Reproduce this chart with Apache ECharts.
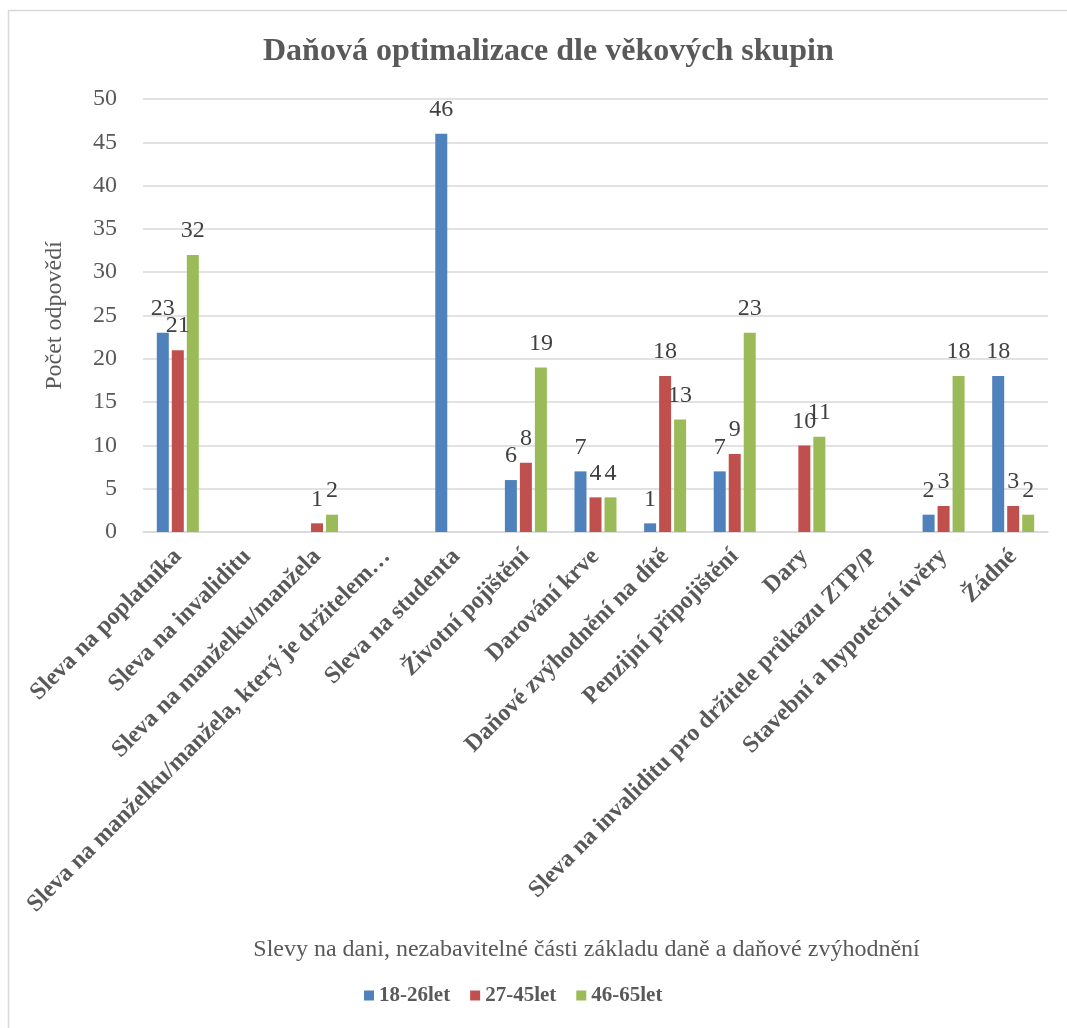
<!DOCTYPE html>
<html>
<head>
<meta charset="utf-8">
<script src="https://cdn.jsdelivr.net/npm/echarts@6/dist/echarts.min.js"></script>
<style>
  html, body { margin: 0; padding: 0; background: #fff; }
  #chart { width: 1067px; height: 1028px; }
</style>
</head>
<body>
<div id="chart"></div>
<script>
// Categories of tax relief and the answer counts per age group
const categories = [
  'Sleva na poplatníka',
  'Sleva na invaliditu',
  'Sleva na manželku/manžela',
  'Sleva na manželku/manžela, který je držitelem…',
  'Sleva na studenta',
  'Životní pojištění',
  'Darování krve',
  'Daňové zvýhodnění na dítě',
  'Penzijní připojištění',
  'Dary',
  'Sleva na invaliditu pro držitele průkazu ZTP/P',
  'Stavební a hypoteční úvěry',
  'Žádné'
];
const seriesNames = ['18-26let', '27-45let', '46-65let'];
const age18to26 = [23, null, null, null, 46, 6, 7, 1, 7, null, null, 2, 18];
const age27to45 = [21, null, 1, null, null, 8, 4, 18, 9, 10, null, 3, 3];
const age46to65 = [32, null, 2, null, null, 19, 4, 13, 23, 11, null, 18, 2];
const yTicks = { min: 0, max: 50, interval: 5 };

const colors = ['#4f81bd', '#c0504d', '#9bbb59'];
const textColor = '#595959';
const serif = '"Liberation Serif", "Times New Roman", serif';

const chart = echarts.init(document.getElementById('chart'), null, { renderer: 'canvas' });

function barSeries(name, data, color) {
  return {
    name: name,
    type: 'bar',
    data: data,
    barWidth: 12,
    barGap: '25%',
    itemStyle: { color: color },
    label: {
      show: true,
      position: 'top',
      distance: 12,
      color: '#404040',
      fontFamily: serif,
      fontSize: 24
    }
  };
}

chart.setOption({
  backgroundColor: '#fff',
  animation: false,
  color: colors,
  // chart frame: left and top edges
  graphic: [{
    type: 'polyline',
    shape: { points: [[8.5, 1028], [8.5, 10.5], [1067, 10.5]] },
    style: { fill: 'none', stroke: '#d9d9d9', lineWidth: 1.5 },
    silent: true
  }],
  title: {
    text: 'Daňová optimalizace dle věkových skupin',
    left: 258,
    top: 31,
    textStyle: {
      fontFamily: serif,
      fontSize: 32,
      fontWeight: 'bold',
      color: textColor
    }
  },
  legend: {
    bottom: 17,
    left: 359,
    itemWidth: 10,
    itemHeight: 10,
    itemGap: 20,
    icon: 'rect',
    textStyle: {
      fontFamily: serif,
      fontSize: 21,
      fontWeight: 'bold',
      color: textColor
    },
    data: seriesNames
  },
  grid: {
    left: 143,
    right: 19,
    top: 99,
    bottom: 496,
    containLabel: false
  },
  xAxis: {
    type: 'category',
    data: categories,
    name: 'Slevy na dani, nezabavitelné části základu daně a daňové zvýhodnění',
    nameLocation: 'middle',
    nameGap: 406,
    nameTextStyle: {
      fontFamily: serif,
      fontSize: 24,
      color: textColor,
      padding: [0, 18, 0, 0]
    },
    axisLine: { lineStyle: { color: '#d9d9d9', width: 1.5 } },
    axisTick: { show: false },
    axisLabel: {
      interval: 0,
      rotate: 45,
      margin: 21,
      fontFamily: serif,
      fontSize: 24,
      fontWeight: 'bold',
      color: textColor
    }
  },
  yAxis: {
    type: 'value',
    min: yTicks.min,
    max: yTicks.max,
    interval: yTicks.interval,
    name: 'Počet odpovědí',
    nameLocation: 'middle',
    nameGap: 76,
    nameRotate: 90,
    nameTextStyle: {
      fontFamily: serif,
      fontSize: 24,
      color: textColor
    },
    axisLine: { show: false },
    axisTick: { show: false },
    axisLabel: {
      margin: 26,
      fontFamily: serif,
      fontSize: 24,
      color: textColor
    },
    splitLine: { lineStyle: { color: '#d9d9d9', width: 1.5 } }
  },
  series: [
    barSeries(seriesNames[0], age18to26, colors[0]),
    barSeries(seriesNames[1], age27to45, colors[1]),
    barSeries(seriesNames[2], age46to65, colors[2])
  ]
});
</script>
</body>
</html>
